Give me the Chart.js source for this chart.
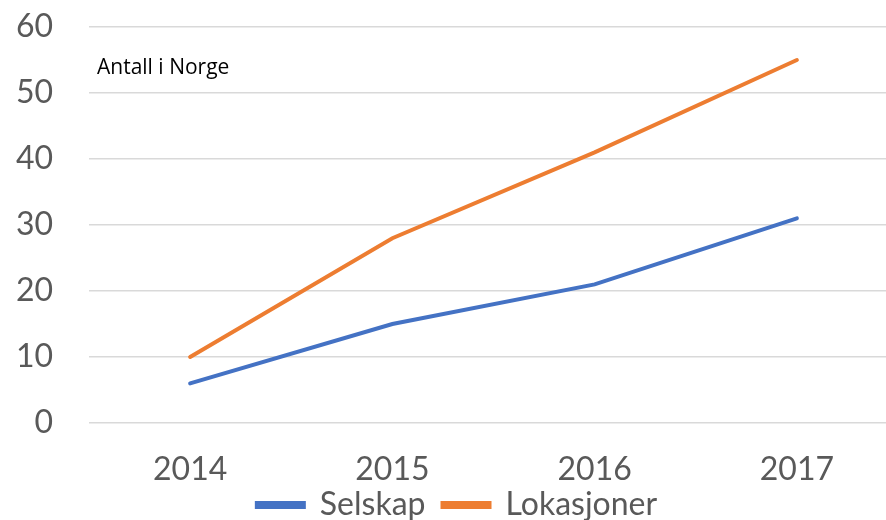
<!DOCTYPE html>
<html>
<head>
<meta charset="utf-8">
<script src="https://cdn.jsdelivr.net/npm/chart.js@4"></script>
<style>
    html, body { margin: 0; padding: 0; background: #fff; overflow: hidden; }
    #wrap { position: relative; width: 900px; height: 520px; }
</style>
</head>
<body>
<div id="wrap"><canvas id="lineChart"></canvas></div>
<script>
// ---- data ----
const years = ['2014', '2015', '2016', '2017'];
const selskap = [6, 15, 21, 31];
const lokasjoner = [10, 28, 41, 55];
const yTicks = [0, 10, 20, 30, 40, 50, 60];
const noteText = 'Antall i Norge';

const fontFamily = "'Lato', 'Open Sans', sans-serif";
const textColor = '#595959';

// small caption inside the plot, top-left
const notePlugin = {
    id: 'note',
    afterDraw(chart) {
        const ctx = chart.ctx;
        const area = chart.chartArea;
        ctx.save();
        ctx.font = "21px 'Open Sans', sans-serif";
        ctx.fillStyle = '#000';
        ctx.textBaseline = 'middle';
        ctx.fillText(noteText, area.left + 8, area.top + 41);
        ctx.restore();
    }
};

// legend sits tight under the year labels, as in the original
const legendNudge = {
    id: 'legendNudge',
    afterLayout(chart) {
        if (chart.legend) {
            chart.legend.top -= 15;
        }
    }
};

new Chart(document.getElementById('lineChart'), {
    type: 'line',
    data: {
        labels: years,
        datasets: [{
            label: 'Selskap',
            data: selskap,
            borderColor: '#4472C4',
            backgroundColor: '#4472C4',
            borderWidth: 4,
            borderCapStyle: 'round',
            pointRadius: 0,
            tension: 0
        }, {
            label: 'Lokasjoner',
            data: lokasjoner,
            borderColor: '#ED7D31',
            backgroundColor: '#ED7D31',
            borderWidth: 4,
            borderCapStyle: 'round',
            pointRadius: 0,
            tension: 0
        }]
    },
    options: {
        responsive: true,
        maintainAspectRatio: false,
        animation: false,
        layout: {
            padding: {top: 0, right: 2, left: 16, bottom: 0}
        },
        scales: {
            x: {
                offset: true,
                grid: {display: false, drawTicks: false},
                border: {display: false},
                ticks: {
                    color: textColor,
                    padding: 31,
                    font: {family: fontFamily, size: 32, lineHeight: 1}
                },
                afterFit: function (scale) {
                    scale.height = 64;
                }
            },
            y: {
                min: 0,
                max: 60,
                afterBuildTicks: function (scale) {
                    scale.ticks = yTicks.map(v => ({value: v}));
                },
                grid: {color: '#D9D9D9', lineWidth: 1.5, drawTicks: false},
                border: {display: false},
                ticks: {
                    color: textColor,
                    padding: 36,
                    font: {family: fontFamily, size: 32, lineHeight: 1}
                },
                afterFit: function (scale) {
                    scale.width = 73;
                    scale.paddingTop = 27;
                    scale.paddingBottom = 0;
                }
            }
        },
        plugins: {
            legend: {
                position: 'bottom',
                maxHeight: 33,
                labels: {
                    color: textColor,
                    boxWidth: 47,
                    boxHeight: 4,
                    padding: 17,
                    font: {family: fontFamily, size: 32, lineHeight: 1}
                }
            },
            tooltip: {enabled: false}
        }
    },
    plugins: [notePlugin, legendNudge]
});
</script>
</body>
</html>
